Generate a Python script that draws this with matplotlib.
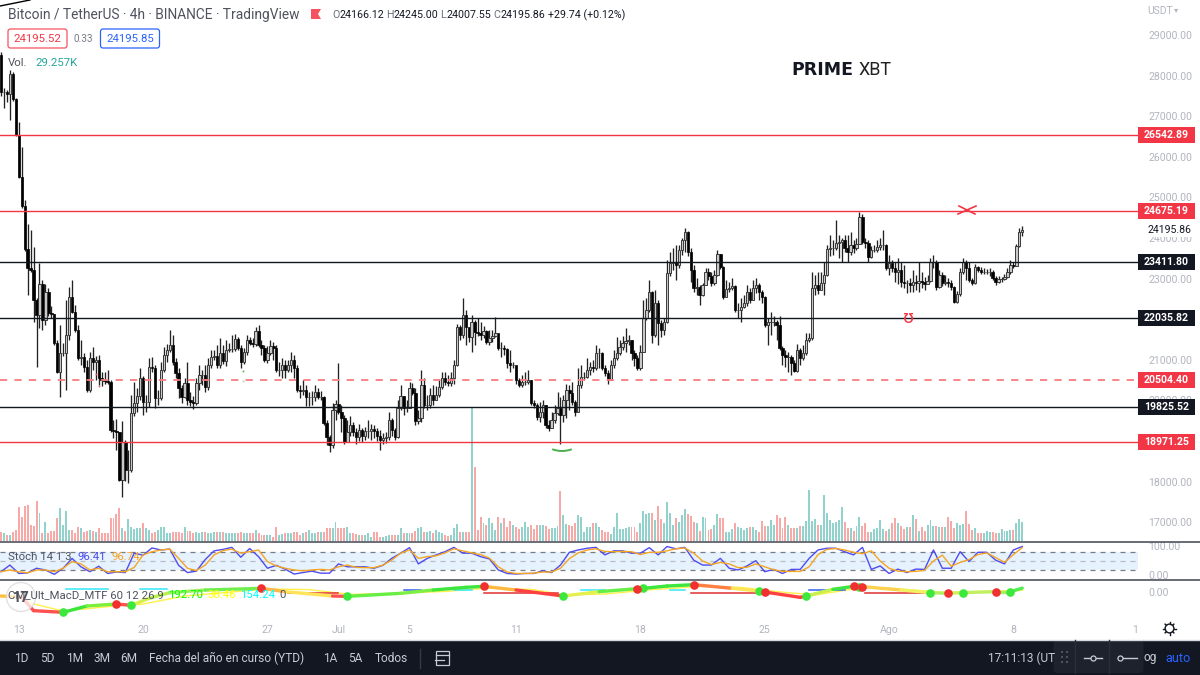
import matplotlib
matplotlib.use("Agg")
import numpy as np
import matplotlib.pyplot as plt
from matplotlib.patches import Rectangle, FancyBboxPatch, Circle, Arc
from matplotlib.transforms import Bbox

plt.rcParams['font.family'] = ['Roboto', 'DejaVu Sans']

first_open = 28500
close = [
27600,27600,27550,28040,27420,26540,25500,24790,23730,23260,
23210,22470,22100,22870,21980,22670,22150,22130,21415,20700,
21170,21170,21610,22550,22180,21735,21045,21070,20825,20255,
21045,20945,20995,20550,20505,20480,20455,19270,19245,19220,
18040,18975,18285,18285,19690,19935,20110,20550,19960,19960,
20825,20800,20060,20060,20750,21120,21240,21365,20945,20675,
20305,20085,20430,20010,19960,19935,20430,20625,20625,20330,
20870,21070,21095,20870,21170,20970,21240,21265,21265,21515,
21290,20945,21190,21490,21415,21390,21710,21365,21290,20995,
21170,21340,21290,20750,20750,20870,20750,20870,20995,20800,
20255,20230,20255,20085,20085,20085,20205,20085,20085,19445,
19100,18900,19765,19910,19715,19565,18975,19220,19395,19220,
19100,19270,19125,19245,19245,19295,19245,19125,19025,19075,
19100,19515,19270,19100,19815,20110,19815,19815,20305,20180,
19490,19565,20380,19885,19885,20130,20010,20130,20330,20550,
20455,20430,20550,20870,21810,21610,22100,21810,21560,21930,
21685,21660,21610,21710,21440,21540,21585,21660,21290,21290,
21265,20920,20870,20870,20505,20380,20455,20455,20505,19935,
19885,19590,19715,19885,19395,19320,19515,19690,19815,19640,
20010,20255,20180,19960,19715,20380,20575,20575,20750,20825,
20800,21170,21170,20800,20675,20505,20870,21045,21170,21315,
21415,21465,21490,21170,21045,20800,21190,22030,22230,22670,
21610,22400,21905,21735,21930,23140,23385,23410,23335,23705,
23950,24150,23655,23210,22770,22795,22595,22840,23165,23065,
22890,23090,23605,23285,22550,22745,22770,22820,22230,22230,
22300,22400,22670,22470,22770,22840,22670,22550,21860,21930,
21930,21930,21860,21290,21120,21070,21070,20920,20725,21240,
21045,21170,21490,21540,22770,22840,22720,22890,23090,23730,
23755,23755,23875,23900,23950,23755,23655,23830,23755,23850,
24520,23900,23875,23530,23705,23705,23780,23830,23830,23260,
23385,23260,23165,23210,22915,22890,22890,22840,22915,22890,
22940,22915,22870,22940,23410,23410,22795,23090,22890,22915,
22890,22795,22420,22620,23165,23410,23260,22965,22890,23285,
23210,23165,23165,23165,23165,23015,22915,22990,22990,23040,
23165,23335,23310,23805,24150,24196]
high = [
28580,27690,27650,28140,28090,27450,26860,26240,24940,24340,
24200,23780,22525,23385,22965,22870,22770,22325,22130,21490,
21860,21415,22470,22795,22965,22350,21860,21490,21170,20995,
21190,21315,21095,21120,20700,20700,20750,20505,19515,19540,
19220,19490,19025,18780,20130,20455,20305,20800,20600,20130,
21045,21070,20870,20255,20945,21315,21390,21735,21610,21045,
20800,20380,20550,20945,20205,20110,20550,20870,20750,20870,
21045,21240,21240,21365,21540,21365,21490,21415,21610,21635,
21560,21365,21290,21610,21560,21540,21810,21860,21490,21365,
21340,21490,21440,21365,20945,21045,20995,20995,21190,21120,
20870,20380,20505,20380,20205,20230,20380,20305,20230,20110,
19515,19150,19935,20010,20920,19885,19640,19515,19615,19470,
19320,19420,19320,19345,19515,19420,19395,19320,19270,19195,
19220,19715,19565,19320,20010,20380,20110,20010,20455,20430,
20305,19765,20750,20550,20130,20305,20380,20355,20505,20700,
20700,20625,20700,20995,21880,21860,22525,22230,21785,22100,
21980,22030,21930,21830,21735,21735,21735,22055,21610,21440,
21365,21290,21240,20945,20850,20550,20625,20700,20750,20505,
20010,19935,19960,20010,19885,19515,19715,19885,20205,20085,
20130,20405,20380,20455,20010,20800,20870,20700,21045,20945,
20995,21365,21290,21190,20870,20750,20995,21240,21560,21490,
21585,21785,21610,21490,21240,21120,21365,22470,22525,22965,
22695,22720,22470,21980,22030,23460,23655,23755,23830,23830,
24000,24245,24170,23755,23335,23015,22840,22890,23260,23260,
23165,23215,23705,23605,23310,22965,22915,23015,22840,22400,
22525,22595,22840,22770,22965,23015,22890,22720,22570,22030,
22180,22080,21980,22080,21340,21240,21190,21120,20995,21390,
21290,21365,21660,21660,23165,23090,23165,23165,23410,23830,
24075,23950,24445,24075,24000,24075,24075,24150,23950,24000,
24640,24590,24000,23950,23805,23830,23950,24000,24195,23850,
23580,23460,23410,23510,23410,23335,22965,23015,23210,23090,
23410,23165,23040,23090,23510,23580,23460,23210,23165,23090,
23015,22965,22820,22695,23260,23510,23460,23410,23015,23360,
23310,23285,23260,23235,23260,23210,23065,23065,23040,23115,
23260,23460,23410,23850,24245,24295]
low = [
27500,27200,27350,26910,27370,26510,25480,24740,23680,22595,
23165,21930,20825,21785,21735,21860,22080,22030,21365,20675,
20085,21095,20255,21490,22150,21685,20995,20870,20700,20205,
20205,20750,20505,20380,20355,20405,20405,19220,19075,18780,
18015,17620,18015,17965,18240,19615,19715,20010,19640,19715,
19840,20700,19815,19885,20010,20700,20945,21190,20870,20550,
20060,19935,20060,19885,19860,19790,19885,20255,20380,20205,
20255,20800,20995,20800,20800,20900,20850,21190,21190,21215,
21240,20800,20900,21120,21365,21315,21340,21315,21120,20945,
20920,21120,20995,20700,20600,20550,20550,20700,20700,20550,
20205,20060,20130,19860,19860,19885,19985,20035,20010,19395,
18900,18730,18825,19515,19665,19220,18925,19075,19125,19125,
18925,19000,18975,19025,19075,19025,19075,19000,18780,18925,
18950,19025,19125,19025,19075,19765,19640,19715,19815,20130,
19395,19420,19470,19815,19765,19815,19885,20010,20085,20280,
20380,20355,20355,20405,20850,21490,21540,21365,21440,21190,
21365,21585,21490,21540,21390,21365,21440,21560,21240,21070,
21120,20800,20700,20800,20405,20330,20330,20380,20405,19885,
19815,19515,19470,19565,19320,19245,19320,19445,19640,18925,
19470,19565,19765,19885,19615,19715,20305,20505,20550,20625,
20700,20750,20800,20750,20600,20405,20505,20800,20995,21120,
21240,21190,21365,20995,20850,20750,20750,21190,21980,22180,
21415,21560,21365,21560,21610,21905,23065,23210,22965,23260,
23580,23655,23555,22915,22670,22595,22350,22570,22870,22965,
22820,22840,23065,23235,22500,22550,22670,22720,22180,22030,
21930,22280,22325,22400,22470,22645,22470,22400,21810,21365,
21610,21830,21490,21240,20870,20825,20700,20625,20700,20700,
20870,20995,21120,21440,21490,22595,22620,22720,22595,23065,
23555,23580,23705,23510,23410,23655,23410,23580,23630,23705,
23875,23850,23755,23410,23510,23655,23655,23705,23705,23210,
23090,23165,22915,22870,22795,22770,22645,22670,22670,22720,
22670,22770,22720,22890,22915,23260,22720,22770,22820,22840,
22795,22720,22400,22400,22570,23115,22965,22915,22840,22870,
23165,23115,23115,23115,23065,22965,22840,22890,22915,22965,
23015,23115,23260,23310,23780,24050]
volume = [
9,8,6,6,9,11,34,24,35,36,
16,15,40,28,8,19,8,10,10,23,
33,16,30,11,11,8,14,13,9,10,
11,10,9,13,8,8,8,23,23,27,
33,13,10,22,14,12,13,13,18,13,
11,8,9,11,14,14,8,8,9,9,
9,8,14,10,10,8,9,8,9,9,
8,8,9,9,9,9,8,8,8,8,
8,9,8,8,8,8,11,8,6,6,
6,6,4,14,6,7,8,8,8,9,
9,6,8,9,11,8,8,9,9,9,
13,13,13,19,13,13,13,14,8,8,
7,6,6,6,8,4,9,9,4,4,
5,6,6,6,6,13,8,8,8,8,
10,13,14,9,9,10,8,11,9,8,
6,5,6,13,17,9,9,9,9,134,
74,11,24,18,16,23,18,11,24,18,
23,14,20,16,14,12,14,19,14,16,
12,16,16,16,15,12,13,13,15,50,
26,17,16,15,18,26,24,9,14,14,
18,18,14,11,9,9,7,14,28,12,
12,13,14,14,14,9,18,30,27,28,
28,21,35,22,18,39,28,16,23,19,
26,32,27,25,19,18,10,24,23,11,
12,16,27,23,23,9,9,12,18,14,
13,11,13,14,14,11,9,20,15,15,
21,16,26,23,13,24,16,13,13,13,
15,15,20,51,20,22,16,16,46,28,
21,18,19,21,34,19,13,13,10,15,
24,15,18,9,9,12,13,21,12,10,
12,18,23,18,15,12,14,14,26,22,
10,14,10,16,21,15,15,14,14,14,
24,20,13,18,16,17,30,17,11,13,
8,8,8,10,9,9,8,8,12,10,
10,11,11,18,22,19]
stoch_k = [
13,36,7,9,25,19,4,25,59,30,13,32,7,12,10,77,70,95,88,91,
35,10,15,55,85,90,97,63,93,65,25,35,22,5,10,15,8,8,40,30,
30,30,25,35,59,77,96,40,59,71,82,97,77,77,65,57,19,7,5,7,
7,16,10,36,80,88,94,97,71,85,85,77,77,96,71,100,92,97,53,36,
36,59,25,19,33,51,13,21,7,21,21,59,88,94,94,82,71,97,21,33,
7,22,10,22,21,88,25,25,82,48,80,80,53,40,88,100]
stoch_d = [
13,19,13,9,19,19,13,25,48,40,19,25,13,13,13,28,71,82,88,91,
59,25,17,36,71,86,91,77,82,88,48,33,25,19,16,19,21,19,30,36,
28,27,27,36,53,77,88,59,65,68,78,92,85,78,72,60,30,12,7,7,
8,12,12,25,58,78,88,92,83,82,83,82,72,80,80,85,92,95,77,50,
38,45,40,27,28,40,30,20,14,14,14,30,72,90,93,88,80,75,85,50,
25,15,13,14,18,50,70,32,45,55,72,78,62,45,72,96]
macd_i = [0,7,11,21,29,39,44,50,57,69,88,96,112,117,135,146,157,163,174,190,
          202,215,217,225,234,247,256,258,270,272,281,288,291,304,314,320,325,336,341,345]
macd_v = [-200,-267,-933,-1017,-700,-600,-667,-317,-33,100,183,17,-200,-217,-67,100,233,283,100,-200,
          17,167,183,300,367,183,50,0,-267,-200,133,283,267,100,-33,-67,-33,17,17,193]
signal_i = [4,11,21,37,48,62,90,104,118,135,150,165,180,190,204,220,236,250,262,275,290,300,318,345]
signal_v = [-150,-600,-950,-720,-600,-200,150,120,-120,-60,30,200,120,-150,-100,120,280,230,20,-150,200,200,-20,80]
red_dots = [39,88,163,215,234,258,288,291,320,336]
green_dots = [21,44,117,190,217,256,272,290,314,325,341]
levels = [26542.89,24675.19,23411.80,22035.82,20504.40,19825.52,18971.25]
level_kind = ['red','red','black','black','dash','black','red']
price_ticks = [p for p in range(17000,30000,1000) if p not in (19000,22000)]
date_pos = [6,48,90,114,138,174,216,258,300,342,384]
date_labels = ['13','20','27','Jul','5','11','18','25','Ago','8','15']

W,H = 1200,675
fig = plt.figure(figsize=(12,6.75),dpi=100,facecolor='white')
def pane(x0,y0,x1,y1,**k):
    a = fig.add_axes([x0/W,1-y1/H,(x1-x0)/W,(y1-y0)/H],**k)
    a.patch.set_alpha(0)
    for s in a.spines.values(): s.set_visible(False)
    return a

XL = (-0.34,384.1)
TXT = '#B2B5BE'; DARK='#42464F'; RED='#F23645'
FS = 7.6

# volume
n = len(close)
idx = np.arange(n)
opens = np.array([first_open]+close[:-1],float)
closes = np.array(close,float)
up = closes>=opens
av = pane(0,0,1138,541)
av.set_xlim(XL); av.set_ylim(0,541); av.axis('off')
av.bar(idx,volume,width=0.66,color=np.where(up,'#92D2CC','#F7A9A7'),linewidth=0)

# price
ax = pane(0,0,1138,541)
ax.set_xlim(XL); ax.set_ylim(16537,29862)
ax.set_xticks([])
ax.yaxis.tick_right()
ax.set_yticks(price_ticks)
ax.set_yticklabels([f'{p:.2f}' for p in price_ticks],color=TXT,fontsize=FS)
ax.tick_params(axis='y',length=0,pad=7.5)
ax.vlines(idx,low,high,color='#222222',lw=0.95,zorder=3)
dn = ~up
ax.bar(idx[dn],(closes-opens)[dn],bottom=opens[dn],width=0.8,color='black',edgecolor='black',lw=0.5,zorder=4)
ax.bar(idx[up],(closes-opens)[up],bottom=opens[up],width=0.8,color='#C8C8C8',edgecolor='#3A3A3A',lw=0.7,zorder=4)
for lv,k in zip(levels,level_kind):
    if k=='dash':
        ax.axhline(lv,color='#F77C80',lw=1.3,ls=(0,(4,4)),zorder=5)
    else:
        ax.axhline(lv,color=RED if k=='red' else '#131722',lw=1,zorder=5)
    ax.add_patch(Rectangle((1.0,lv-197),57/1138,394,transform=ax.get_yaxis_transform(),
                 facecolor='#131722' if k=='black' else RED,lw=0,clip_on=False,zorder=8))
    ax.text(1+28.5/1138,lv,f'{lv:.2f}',transform=ax.get_yaxis_transform(),ha='center',va='center',
            color='white',fontsize=FS,fontweight='bold',zorder=9,clip_on=False)
last_c = 24195.86
ax.add_patch(Rectangle((1.0,last_c-160),57/1138,320,transform=ax.get_yaxis_transform(),facecolor='white',lw=0,clip_on=False,zorder=8))
ax.text(1+10/1138,last_c,f'{last_c:.2f}',transform=ax.get_yaxis_transform(),ha='left',va='center',color='#131722',fontsize=FS,zorder=9)

# stochastic
st = pane(0,542,1138,579)
st.set_xlim(XL); st.set_ylim(-12.1,115.5)
st.set_xticks([]); st.yaxis.tick_right()
st.set_yticks([0,100]); st.set_yticklabels(['0.00','100.00'],color=TXT,fontsize=FS)
st.tick_params(axis='y',length=0,pad=7.5)
st.axhspan(20,80,color='#E6F2FD',lw=0)
st.axhline(80,color='#787B86',lw=0.9,ls=(0,(4,4)))
st.axhline(50,color='#B8BCC6',lw=0.9,ls=(0,(4,4)))
st.axhline(20,color='#787B86',lw=0.9,ls=(0,(4,4)))
st_i = np.arange(len(stoch_k))*3
st.plot(st_i,stoch_k,color='#4F4BF0',lw=1)
st.plot(st_i,stoch_d,color='#F5A623',lw=1)

# macd
mc = pane(0,580,1138,620)
mc.set_xlim(XL); mc.set_ylim(-1400,600)
mc.yaxis.tick_right(); mc.set_yticks([0]); mc.set_yticklabels(['0.00'],color=TXT,fontsize=FS)
mc.tick_params(axis='y',length=0,pad=7.5)
mc.set_xticks(date_pos); mc.set_xticklabels(date_labels,color=TXT,fontsize=FS)
mc.tick_params(axis='x',length=0,pad=3.5)
seg_colors = ['#FFC040','#FF5050','#FF5050','#39E639','#7BEF3C','#FF5050','#D8F04C','#B8F050','#9CF060','#70EE50',
 '#FFB84A','#FFE45A','#FF5050','#66EE44','#7CEF44','#3CE63C','#3CE63C','#FFB840','#FF4040','#E4F050',
 '#66EE44','#66EE44','#3CE63C','#3CE63C','#FF8040','#FFE45A','#F0C050','#FF4040','#FF4040','#C8F04C',
 '#3CE63C','#FF9040','#FFD050','#F0F060','#B0F060','#D0F060','#C0F060','#A0F060','#50EE50']
mc.plot(signal_i,signal_v,color='#FFF04A',lw=1,zorder=2)
strips = [(22,36,130,'#30E8F8'),(47,56,130,'#30E8F8'),(136,142,100,'#3060F0'),(153,159,100,'#30E8F8'),
          (196,204,100,'#30E8F8'),(226,231,100,'#30E8F8'),(273,285,110,'#3060F0'),
          (97,114,-67,'#E03030'),(163,188,-67,'#E03030'),(233,258,-67,'#E03030'),(292,313,-67,'#E03030')]
for a,b,v,c in strips:
    mc.plot([a,b],[v,v],color=c,lw=1.1,zorder=2)
for j in range(len(macd_i)-1):
    mc.plot(macd_i[j:j+2],macd_v[j:j+2],color=seg_colors[j],lw=2.4,solid_capstyle='round',zorder=3)
mc.plot(green_dots,np.interp(green_dots,macd_i,macd_v),'o',color='#3CE83C',ms=6.2,mew=0,zorder=4)
mc.plot(red_dots,np.interp(red_dots,macd_i,macd_v),'o',color='#F23030',ms=6.2,mew=0,zorder=5)
labs = mc.get_xticklabels()
labs[-1].set_clip_on(True)
labs[-1].set_clip_box(Bbox([[0,0],[1138,H]]))

# overlay in pixels
ov = fig.add_axes([0,0,1,1],zorder=20)
ov.set_xlim(0,W); ov.set_ylim(H,0); ov.axis('off'); ov.patch.set_alpha(0)
def T(x,y,s,c=DARK,fs=8,**k):
    k.setdefault('va','center')
    return ov.text(x,y,s,color=c,fontsize=fs,**k)
ov.plot([0,1200],[541.5,541.5],color='#50535E',lw=1.2)
ov.plot([0,1200],[579.5,579.5],color='#50535E',lw=1.2)
ov.plot([0,30],[6,0],color='black',lw=1)

T(8,15,'Bitcoin / TetherUS · 4h · BINANCE · TradingView','#50535E',9.95)
ov.add_patch(plt.Polygon([(311,9),(321,9),(318,14),(321,19),(311,19)],color='#F7525F',lw=0))
for xl,xv,lab,val in [(332,339.5,'O','24166.12'),(386,393.5,'H','24245.00'),(440,446.5,'L','24007.55'),(493,500.5,'C','24195.86')]:
    T(xl,15.5,lab,'#6A6D78',7.7); T(xv,15.5,val,'#131722',7.7)
T(548,15.5,'+29.74 (+0.12%)','#131722',7.7)
ov.add_patch(FancyBboxPatch((8,29),59,19,boxstyle='round,pad=0,rounding_size=2.5',fc='white',ec='#F7525F',lw=0.9))
T(37.5,39,'24195.52','#F23645',8.2,ha='center')
T(74,39,'0.33','#787B86',7.2)
ov.add_patch(FancyBboxPatch((100.5,29),59,19,boxstyle='round,pad=0,rounding_size=2.5',fc='white',ec='#2962FF',lw=0.9))
T(130,39,'24195.85','#2962FF',8.2,ha='center')
T(8,63.5,'Vol.','#50535E',8.2); T(35,63.5,'29.257K','#26A69A',8.2)
T(791,70,'PRIME','#131722',12.5,fontweight='black',family='DejaVu Sans')
T(858,70,'XBT','#222222',13,fontweight='normal')
T(1147,11,'USDT','#B2B5BE',7.4); T(1174,10,'▾','#B2B5BE',6,family='DejaVu Sans')

T(8,557,'Stoch 14 1 3','#50535E',8.2); T(77,557,'96.41','#4F4BF0',8.2); T(111,557,'96.74','#F5A623',8.2)
ov.add_patch(Circle((21,597),14.5,fc='white',ec='#D8D8DC',lw=1,alpha=0.75))
T(21,597.5,'17','#50535E',10.5,ha='center',fontweight='bold')
T(8,595,'CM_Ult_MacD_MTF 60 12 26 9','#50535E',8.2)
T(168,595,'192.70','#00FF00',8.2); T(207,595,'38.46','#FFFF00',8.2); T(240,595,'154.24','#00FFFF',8.2); T(279,595,'0','#50535E',8.2)

# drawings
ov.plot([958,976],[214,206],color=RED,lw=1.2); ov.plot([959,975],[206,214],color=RED,lw=1.2)
T(909,318,'ʊ',RED,13,ha='center',family='DejaVu Sans')
ov.add_patch(Arc((562,441),34,20,theta1=40,theta2=140,color='#4CAF50',lw=1.4))
for px,py,c in [(96,374,'#F7525F'),(99,386,'#F7525F'),(243,371,'#4CAF50'),(243,381,'#A5D6A7')]:
    ov.plot([px],[py],'s',color=c,ms=1.2,mew=0)

# gear
ov.add_patch(Circle((1169.5,628.5),4.4,fc='none',ec='#131722',lw=1))
for a in np.arange(0,360,45):
    ca,sa=np.cos(np.radians(a)),np.sin(np.radians(a))
    ov.plot([1169.5+4.4*ca,1169.5+6.2*ca],[628.5+4.4*sa,628.5+6.2*sa],color='#131722',lw=1)

# bottom bar
ov.plot([0,1200],[640,640],color='#D8DAE0',lw=1)
ov.add_patch(Rectangle((0,641),1200,34,fc='#131722',lw=0))
BT='#C8CBD3'
for xx,s in [(21,'1D'),(47,'5D'),(75,'1M'),(102,'3M'),(129,'6M'),(330,'1A'),(355,'5A')]:
    T(xx,658.5,s,BT,8.6,ha='center')
T(149,658.5,'Fecha del año en curso (YTD)',BT,8.6)
T(375,658.5,'Todos',BT,8.6)
ov.plot([420,420],[649,668],color='#363A45',lw=1)
ov.add_patch(Rectangle((436,651),13,14,fc='none',ec=BT,lw=0.9))
ov.plot([436,449],[655,655],color=BT,lw=0.9)
ov.plot([435,444],[660,660],color=BT,lw=0.9)
T(988,658.5,'17:11:13 (UT',BT,8.6)
ov.add_patch(FancyBboxPatch((1053.5,640),90,33,boxstyle='round,pad=0,rounding_size=4',fc='#1E222D',ec='none'))
ov.plot([1075,1075],[640,673],color='#2A2E39',lw=1); ov.plot([1109,1109],[640,673],color='#2A2E39',lw=1)
for dx in (1062,1067):
    for dy in (652,657,662):
        ov.plot([dx],[dy],'s',color='#50535E',ms=1.5,mew=0)
ov.plot([1084,1102],[658,658],color=BT,lw=1); ov.plot([1093],[658],'o',mfc='#1E222D',mec=BT,ms=3.6,mew=0.9)
ov.plot([1118,1137],[658,658],color=BT,lw=1); ov.plot([1120],[658],'o',mfc='#1E222D',mec=BT,ms=3.6,mew=0.9)
T(1144,658,'og',BT,8.6)
T(1165,658.5,'auto','#2962FF',9.2)

fig.savefig('out.png',dpi=100)
